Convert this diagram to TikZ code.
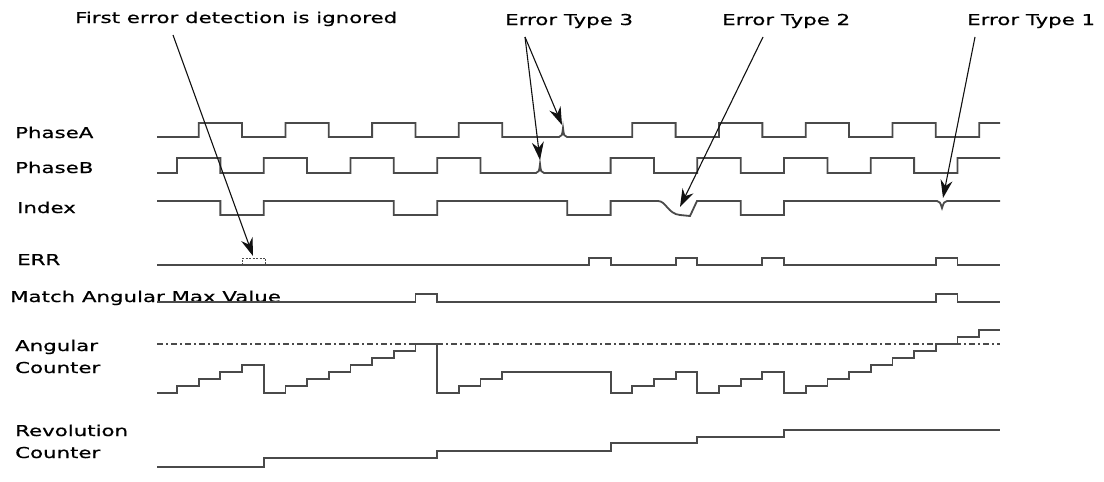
\documentclass[tikz,border=0pt]{standalone}
\usepackage{fontspec}
\newfontfamily\wavefont{DejaVu Sans}[FakeStretch=1.42, FakeBold=0.6]
\usetikzlibrary{arrows.meta, positioning}
\definecolor{waveline}{HTML}{4A4A4A}
\definecolor{noteline}{HTML}{111111}

\begin{document}
\begin{tikzpicture}[
        x=1pt, y=-1pt,
        wave/.style={draw=waveline, line width=1.8pt},
        sigtext/.style={
            anchor=base west,
            inner sep=0pt,
            align=left,
            font=\wavefont\fontsize{15}{22}\selectfont
        },
        pointer/.style={draw=noteline, line width=1.1pt, -{Stealth[length=18pt, width=12pt]}},
        maxline/.style={draw=waveline, line width=1.4pt, dash pattern=on 6pt off 3pt on 2pt off 3pt},
        ignoredbox/.style={draw=waveline, line width=0.9pt, dash pattern=on 2pt off 1.5pt}
    ]
        \useasboundingbox (0,0) rectangle (1104,482);
        % quarter period of the encoder signals
        \def\tzero{177}
        \def\tq{21.68}

        % signal names
        \node[sigtext] (phasealabel) at (15,138) {PhaseA};
        \node[sigtext] (phaseblabel) at (15,173) {PhaseB};
        \node[sigtext] (indexlabel) at (17,213) {Index};
        \node[sigtext] (errlabel) at (17,265) {ERR};
        \node[sigtext] (matchlabel) at (10,302) {Match Angular Max Value};
        \node[sigtext] (angularlabel) at (15,373) {Angular\\Counter};
        \node[sigtext] (revolutionlabel) at (15,458) {Revolution\\Counter};

        % notes
        \node[sigtext] (noteignored) at (75,23) {First error detection is ignored};
        \node[sigtext] (notetypethree) at (505,25) {Error Type 3};
        \node[sigtext] (notetypetwo) at (722,25) {Error Type 2};
        \node[sigtext] (notetypeone) at (967,25) {Error Type 1};

        % PhaseA
        \draw[wave] (157,137)
            \foreach \k in {0,1,2,3} {
                -- ({\tzero+\tq*(1+4*\k)},137) -- ({\tzero+\tq*(1+4*\k)},123)
                -- ({\tzero+\tq*(3+4*\k)},123) -- ({\tzero+\tq*(3+4*\k)},137)
            }
            -- (559,137) .. controls (562,136) .. (563,128) .. controls (564,136) .. (567,137)
            \foreach \k in {5,6,7,8} {
                -- ({\tzero+\tq*(1+4*\k)},137) -- ({\tzero+\tq*(1+4*\k)},123)
                -- ({\tzero+\tq*(3+4*\k)},123) -- ({\tzero+\tq*(3+4*\k)},137)
            }
            -- ({\tzero+\tq*37},137) -- ({\tzero+\tq*37},123) -- (1000,123);

        % PhaseB
        \draw[wave] (157,173)
            \foreach \k in {0,1,2,3} {
                -- ({\tzero+\tq*4*\k},173) -- ({\tzero+\tq*4*\k},158)
                -- ({\tzero+\tq*(2+4*\k)},158) -- ({\tzero+\tq*(2+4*\k)},173)
            }
            -- (536,173) .. controls (539,172) .. (540,164) .. controls (541,172) .. (544,173)
            \foreach \k in {5,6,7,8} {
                -- ({\tzero+\tq*4*\k},173) -- ({\tzero+\tq*4*\k},158)
                -- ({\tzero+\tq*(2+4*\k)},158) -- ({\tzero+\tq*(2+4*\k)},173)
            }
            -- ({\tzero+\tq*36},173) -- ({\tzero+\tq*36},158) -- (1000,158);

        % Index
        \draw[wave] (157,201)
            \foreach \k in {0,1,2} {
                -- ({\tzero+\tq*(2+8*\k)},201) -- ({\tzero+\tq*(2+8*\k)},215)
                -- ({\tzero+\tq*(4+8*\k)},215) -- ({\tzero+\tq*(4+8*\k)},201)
            }
            -- (658,201) .. controls (666,201) and (668,214) .. (680,215)
            -- (690,216) -- (697,201)
            -- ({\tzero+\tq*26},201) -- ({\tzero+\tq*26},215)
            -- ({\tzero+\tq*28},215) -- ({\tzero+\tq*28},201)
            -- (937,201) .. controls (940,202) .. (942,208) .. controls (944,202) .. (947,201)
            -- (1000,201);

        % ERR
        \draw[wave] (157,265)
            \foreach \n in {19,23,27,35} {
                -- ({\tzero+\tq*\n},265) -- ({\tzero+\tq*\n},258)
                -- ({\tzero+\tq*(\n+1)},258) -- ({\tzero+\tq*(\n+1)},265)
            }
            -- (1000,265);
        \draw[ignoredbox] ({\tzero+\tq*3},265) -- ({\tzero+\tq*3},258)
            -- ({\tzero+\tq*4+2},258) -- ({\tzero+\tq*4+2},265);

        % Match Angular Max Value
        \draw[wave] (157,302)
            \foreach \n in {11,35} {
                -- ({\tzero+\tq*\n},302) -- ({\tzero+\tq*\n},294)
                -- ({\tzero+\tq*(\n+1)},294) -- ({\tzero+\tq*(\n+1)},302)
            }
            -- (1000,302);

        % Angular Counter
        \draw[maxline] (157,344) -- (1000,344);
        \draw[wave] (157,393)
            \foreach \n/\lv [remember=\lv as \prevlv (initially 0)] in
                {0/1,1/2,2/3,3/4,4/0,5/1,6/2,7/3,8/4,9/5,10/6,11/7,12/0,
                 13/1,14/2,15/3,20/0,21/1,22/2,23/3,24/0,25/1,26/2,27/3,
                 28/0,29/1,30/2,31/3,32/4,33/5,34/6,35/7,36/8,37/9} {
                -- ({\tzero+\tq*\n},{393-7*\prevlv}) -- ({\tzero+\tq*\n},{393-7*\lv})
            }
            -- (1000,330);

        % Revolution Counter
        \draw[wave] (157,467)
            \foreach \n/\lv [remember=\lv as \prevlv (initially 467)] in
                {4/458,12/451,20/443,24/437,28/430} {
                -- ({\tzero+\tq*\n},\prevlv) -- ({\tzero+\tq*\n},\lv)
            }
            -- (1000,430);

        % pointers to the errors
        \coordinate (ignoredtail) at (173,35);
        \coordinate (ignoredtip) at (253,256);
        \coordinate (typethreetail) at (525,37);
        \coordinate (glitchatip) at (562,125);
        \coordinate (glitchbtip) at (540,160);
        \coordinate (typetwotail) at (763,37);
        \coordinate (indexcurvetip) at (680,207);
        \coordinate (typeonetail) at (975,37);
        \coordinate (indexdiptip) at (943,198);

        \draw[pointer] (ignoredtail) -- (ignoredtip);
        \draw[pointer] (typethreetail) -- (glitchatip);
        \draw[pointer] (typethreetail) -- (glitchbtip);
        \draw[pointer] (typetwotail) -- (indexcurvetip);
        \draw[pointer] (typeonetail) -- (indexdiptip);
    \end{tikzpicture}
\end{document}
